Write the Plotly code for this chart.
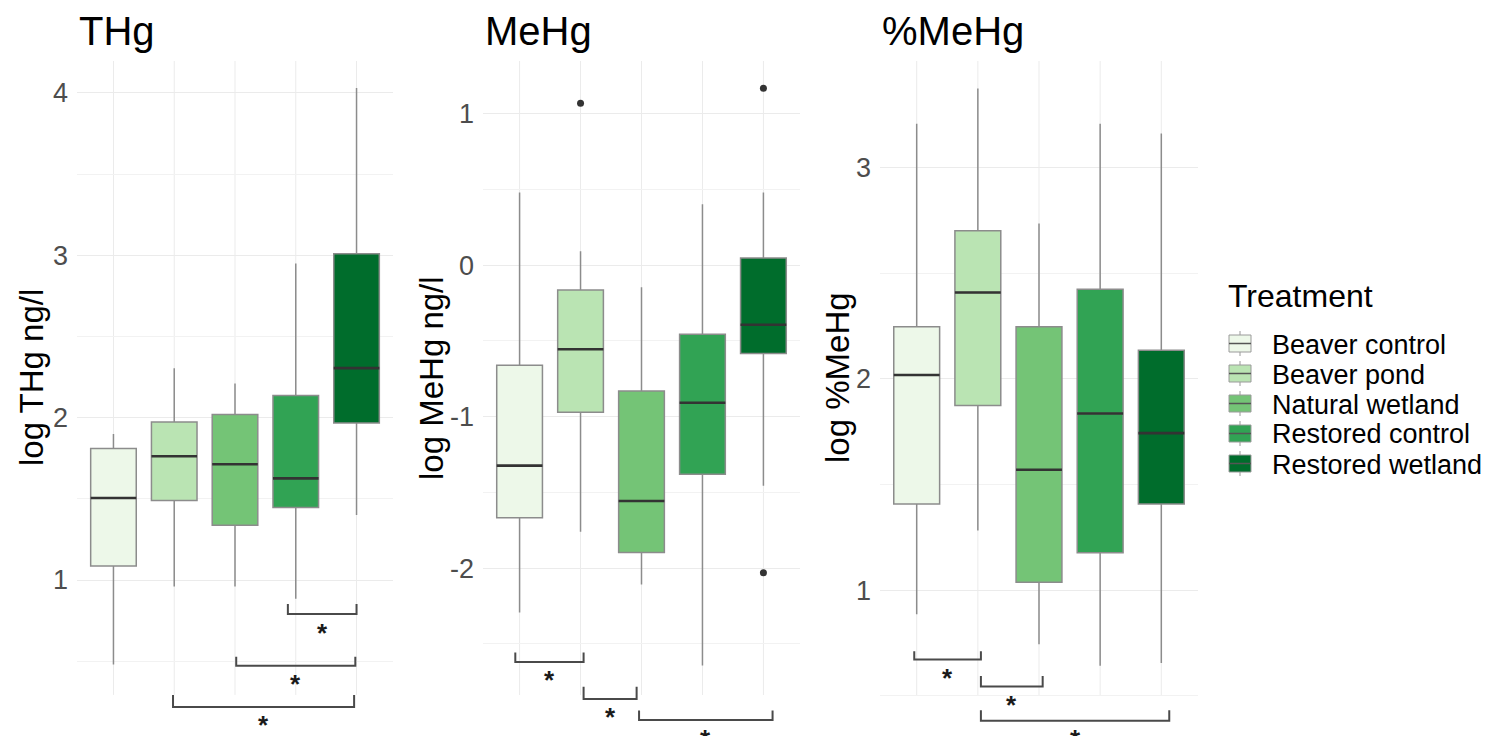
import plotly.graph_objects as go

# ---------------- data ----------------
treatments = ["Beaver control", "Beaver pond", "Natural wetland", "Restored control", "Restored wetland"]
colors = ["#edf8e9", "#bae4b3", "#74c476", "#31a354", "#006d2c"]
positions = [1, 2, 3, 4, 5]

panel_titles = ["THg", "MeHg", "%MeHg"]
y_titles = ["log THg ng/l", "log MeHg ng/l", "log %MeHg"]

# THg
thg_low = [0.48, 0.96, 0.96, 0.885, 1.40]
thg_q1 = [1.086, 1.49, 1.337, 1.447, 1.967]
thg_med = [1.505, 1.762, 1.713, 1.626, 2.305]
thg_q3 = [1.81, 1.973, 2.02, 2.137, 3.01]
thg_high = [1.90, 2.305, 2.21, 2.95, 4.03]
thg_out_x = []
thg_out_y = []

# MeHg
mehg_low = [-2.294, -1.761, -2.108, -2.644, -1.457]
mehg_q1 = [-1.668, -0.971, -1.897, -1.38, -0.583]
mehg_med = [-1.324, -0.556, -1.557, -0.909, -0.394]
mehg_q3 = [-0.661, -0.165, -0.831, -0.456, 0.046]
mehg_high = [0.479, 0.092, -0.147, 0.402, 0.479]
mehg_out_x = [2, 5, 5]
mehg_out_y = [1.068, 1.167, -2.031]

# %MeHg
pct_low = [0.887, 1.282, 0.745, 0.643, 0.656]
pct_q1 = [1.408, 1.874, 1.038, 1.177, 1.408]
pct_med = [2.018, 2.408, 1.570, 1.836, 1.743]
pct_q3 = [2.246, 2.70, 2.246, 2.424, 2.135]
pct_high = [3.206, 3.373, 2.734, 3.206, 3.16]
pct_out_x = []
pct_out_y = []

# tick values
thg_ticks = [1, 2, 3, 4]
thg_minor = [0.5, 1.5, 2.5, 3.5]
mehg_ticks = [-2, -1, 0, 1]
mehg_minor = [-2.5, -1.5, -0.5, 0.5]
pct_ticks = [1, 2, 3]
pct_minor = [0.5, 1.5, 2.5, 3.5]

# significance brackets: start, end, bar level, tick top
thg_br_x0 = [3.87, 3.02, 1.98]
thg_br_x1 = [5.0, 4.98, 4.96]
thg_br_y = [0.79, 0.472, 0.218]
thg_br_tick = [0.852, 0.527, 0.292]

mehg_br_x0 = [0.93, 2.05, 2.96]
mehg_br_x1 = [2.05, 2.92, 5.15]
mehg_br_y = [-2.62, -2.864, -3.003]
mehg_br_tick = [-2.558, -2.783, -2.941]

pct_br_x0 = [0.96, 2.05, 2.05]
pct_br_x1 = [2.05, 3.06, 5.13]
pct_br_y = [0.672, 0.545, 0.383]
pct_br_tick = [0.711, 0.594, 0.432]
br_label = "*"

panels = [
    dict(low=thg_low, q1=thg_q1, med=thg_med, q3=thg_q3, high=thg_high,
         ox=thg_out_x, oy=thg_out_y, ticks=thg_ticks, minor=thg_minor,
         bx0=thg_br_x0, bx1=thg_br_x1, by=thg_br_y, bt=thg_br_tick),
    dict(low=mehg_low, q1=mehg_q1, med=mehg_med, q3=mehg_q3, high=mehg_high,
         ox=mehg_out_x, oy=mehg_out_y, ticks=mehg_ticks, minor=mehg_minor,
         bx0=mehg_br_x0, bx1=mehg_br_x1, by=mehg_br_y, bt=mehg_br_tick),
    dict(low=pct_low, q1=pct_q1, med=pct_med, q3=pct_q3, high=pct_high,
         ox=pct_out_x, oy=pct_out_y, ticks=pct_ticks, minor=pct_minor,
         bx0=pct_br_x0, bx1=pct_br_x1, by=pct_br_y, bt=pct_br_tick),
]

# ---------------- layout constants ----------------
W, H = 1491, 736
PT, PB = 61, 730          # plot top / bottom pixel
FONT = "Liberation Sans, Arial, sans-serif"
x_dom_px = [(77, 393), (483, 800), (880, 1198)]
y_ranges = [(0.076, 4.197), (-3.069, 1.347), (0.339, 3.503)]
grid_bottom = [0.292, -2.838, 0.504]
ytitle_px = [31, 431, 837]
BOX_W = 0.75
STAR_SHIFT = -18.5        # px below the bracket bar


def pxx(p):
    return p / W


def pxy(p):
    return (PB - p) / (PB - PT)


fig = go.Figure()
annotations = []
shapes = []

for k, pn in enumerate(panels):
    xa = "x" if k == 0 else f"x{k+1}"
    ya = "y" if k == 0 else f"y{k+1}"
    for i, name in enumerate(treatments):
        fig.add_trace(go.Box(
            x=[positions[i]], q1=[pn["q1"][i]], median=[pn["med"][i]], q3=[pn["q3"][i]],
            lowerfence=[pn["low"][i]], upperfence=[pn["high"][i]],
            name=name, fillcolor=colors[i], width=BOX_W, whiskerwidth=0,
            line=dict(color="#8c8c8c", width=1.5), boxpoints=False,
            showlegend=False, hoverinfo="skip", xaxis=xa, yaxis=ya))
        # darker median line
        fig.add_trace(go.Scatter(
            x=[positions[i] - BOX_W / 2, positions[i] + BOX_W / 2],
            y=[pn["med"][i], pn["med"][i]], mode="lines",
            line=dict(color="#333333", width=2.6), showlegend=False,
            hoverinfo="skip", xaxis=xa, yaxis=ya))
    if pn["ox"]:
        fig.add_trace(go.Scatter(x=pn["ox"], y=pn["oy"], mode="markers",
                                 marker=dict(color="#333333", size=7), showlegend=False,
                                 hoverinfo="skip", xaxis=xa, yaxis=ya))
    # significance brackets
    for j in range(len(pn["by"])):
        x0, x1 = pn["bx0"][j], pn["bx1"][j]
        fig.add_trace(go.Scatter(
            x=[x0, x0, x1, x1], y=[pn["bt"][j], pn["by"][j], pn["by"][j], pn["bt"][j]],
            mode="lines", line=dict(color="#4a4a4a", width=2), showlegend=False,
            hoverinfo="skip", xaxis=xa, yaxis=ya))
        annotations.append(dict(x=(x0 + x1) / 2, y=pn["by"][j], xref=xa, yref=ya,
                                text=f"<b>{br_label}</b>", showarrow=False, yshift=STAR_SHIFT,
                                font=dict(family=FONT, size=26, color="#1a1a1a")))
    # vertical grid lines (discrete x)
    for p in positions:
        shapes.append(dict(type="line", xref=xa, yref=ya, x0=p, x1=p,
                           y0=grid_bottom[k], y1=y_ranges[k][1],
                           line=dict(color="#ebebeb", width=1), layer="below"))
    # panel title
    annotations.append(dict(x=0, xref=f"{xa} domain", xanchor="left", y=pxy(31), yref="paper",
                            yanchor="middle", text=panel_titles[k], showarrow=False,
                            font=dict(family=FONT, size=40, color="#000000")))
    # y-axis title
    annotations.append(dict(x=pxx(ytitle_px[k]), xref="paper", xanchor="center",
                            y=pxy(378), yref="paper", yanchor="middle", textangle=-90,
                            text=y_titles[k], showarrow=False,
                            font=dict(family=FONT, size=33, color="#000000")))

    axis_suffix = "" if k == 0 else str(k + 1)
    fig.update_layout(**{
        f"xaxis{axis_suffix}": dict(domain=[pxx(x_dom_px[k][0]), pxx(x_dom_px[k][1])],
                                    range=[0.4, 5.6], showticklabels=False, showgrid=False,
                                    zeroline=False, showline=False, ticks="", fixedrange=True),
        f"yaxis{axis_suffix}": dict(range=list(y_ranges[k]), anchor=xa,
                                    tickvals=pn["ticks"],
                                    ticktext=[str(t) for t in pn["ticks"]],
                                    showgrid=True, gridcolor="#ebebeb", gridwidth=1.2,
                                    minor=dict(tickvals=pn["minor"], showgrid=True,
                                               gridcolor="#f2f2f2", gridwidth=1),
                                    zeroline=False, showline=False, ticks="",
                                    ticklabelstandoff=8,
                                    tickfont=dict(family=FONT, size=27, color="#4d4d4d"),
                                    fixedrange=True),
    })

# ---------------- manual legend ----------------
annotations.append(dict(x=pxx(1226), xref="paper", xanchor="left", y=pxy(296), yref="paper",
                        yanchor="middle", text="Treatment", showarrow=False,
                        font=dict(family=FONT, size=32, color="#000000")))
for i, name in enumerate(treatments):
    cy = 343.5 + 30 * i
    shapes.append(dict(type="line", xref="paper", yref="paper", x0=pxx(1240), x1=pxx(1240),
                       y0=pxy(cy - 12.5), y1=pxy(cy + 12.5),
                       line=dict(color="#9a9a9a", width=1)))
    shapes.append(dict(type="rect", xref="paper", yref="paper", x0=pxx(1229), x1=pxx(1251),
                       y0=pxy(cy - 8.5), y1=pxy(cy + 8.5), fillcolor=colors[i],
                       line=dict(color="#9a9a9a", width=1)))
    shapes.append(dict(type="line", xref="paper", yref="paper", x0=pxx(1229), x1=pxx(1251),
                       y0=pxy(cy), y1=pxy(cy), line=dict(color="#555555", width=1.5)))
    annotations.append(dict(x=pxx(1270), xref="paper", xanchor="left", y=pxy(cy + 1),
                            yref="paper", yanchor="middle", text=name, showarrow=False,
                            font=dict(family=FONT, size=27, color="#000000")))

fig.update_layout(
    width=W, height=H,
    margin=dict(l=0, r=0, t=PT, b=H - PB, pad=0),
    paper_bgcolor="#ffffff", plot_bgcolor="#ffffff",
    font=dict(family=FONT),
    showlegend=False,
    annotations=annotations,
    shapes=shapes,
)

fig.write_html("out.html", config={"displayModeBar": False},
               post_script="document.body.style.margin='0';document.body.style.overflow='hidden';")
